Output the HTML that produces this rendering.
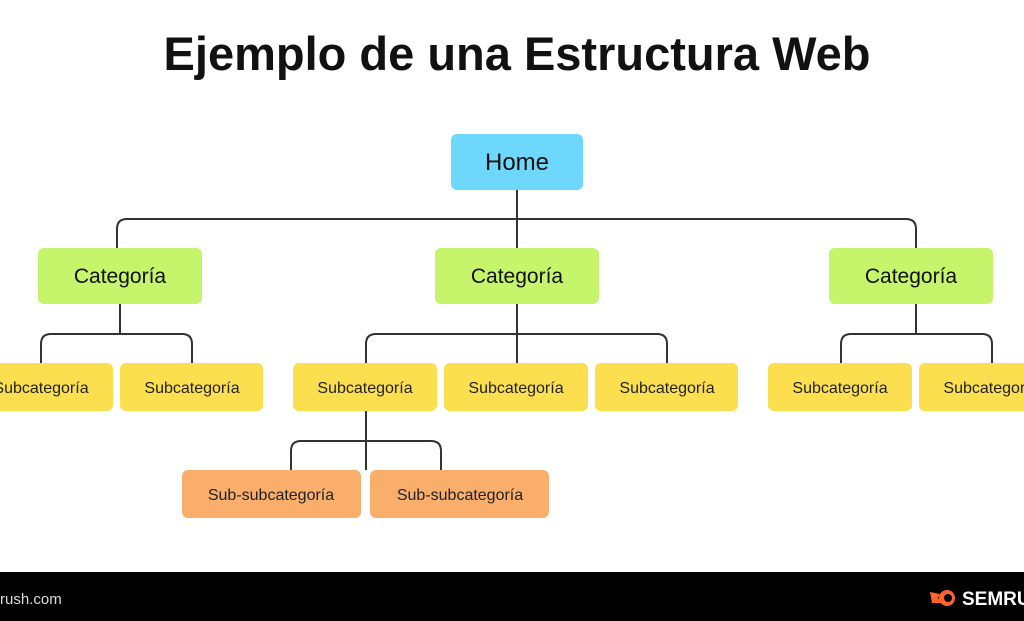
<!DOCTYPE html>
<html><head><meta charset="utf-8"><style>
html,body{margin:0;padding:0;background:#fff;width:1024px;height:621px;overflow:hidden}
svg text{font-family:"Liberation Sans",sans-serif}
</style></head><body>
<svg width="1024" height="621" viewBox="0 0 1024 621" xmlns="http://www.w3.org/2000/svg">
<rect width="1024" height="621" fill="#fff"/>
<text x="517" y="70" text-anchor="middle" font-size="47" font-weight="bold" fill="#111">Ejemplo de una Estructura Web</text>
<g fill="none" stroke="#333" stroke-width="2">
<path d="M517 190 V219"/>
<path d="M117 248 V229 Q117 219 127 219 H906 Q916 219 916 229 V248"/>
<path d="M517 219 V248"/>
<path d="M120 304 V334"/>
<path d="M41 363 V344 Q41 334 51 334 H182 Q192 334 192 344 V363"/>
<path d="M517 304 V363"/>
<path d="M366 363 V344 Q366 334 376 334 H657 Q667 334 667 344 V363"/>
<path d="M916 304 V334"/>
<path d="M841 363 V344 Q841 334 851 334 H982 Q992 334 992 344 V363"/>
<path d="M366 411 V470"/>
<path d="M291 470 V451 Q291 441 301 441 H431 Q441 441 441 451 V470"/>
</g>
<rect x="451" y="134" width="132" height="56" rx="6" fill="#6dd8fb"/>
<text x="517" y="170" text-anchor="middle" font-size="24" fill="#111">Home</text>
<g fill="#c6f46a">
<rect x="38" y="248" width="164" height="56" rx="6"/>
<rect x="435" y="248" width="164" height="56" rx="6"/>
<rect x="829" y="248" width="164" height="56" rx="6"/>
</g>
<g font-size="21" fill="#111" text-anchor="middle">
<text x="120" y="283">Categoría</text>
<text x="517" y="283">Categoría</text>
<text x="911" y="283">Categoría</text>
</g>
<g fill="#fbdf4f">
<rect x="-30" y="363" width="143" height="48" rx="6"/>
<rect x="120" y="363" width="143" height="48" rx="6"/>
<rect x="293" y="363" width="144" height="48" rx="6"/>
<rect x="444" y="363" width="144" height="48" rx="6"/>
<rect x="595" y="363" width="143" height="48" rx="6"/>
<rect x="768" y="363" width="144" height="48" rx="6"/>
<rect x="919" y="363" width="143" height="48" rx="6"/>
</g>
<g font-size="16" fill="#222" text-anchor="middle">
<text x="41" y="393">Subcategoría</text>
<text x="192" y="393">Subcategoría</text>
<text x="365" y="393">Subcategoría</text>
<text x="516" y="393">Subcategoría</text>
<text x="667" y="393">Subcategoría</text>
<text x="840" y="393">Subcategoría</text>
<text x="991" y="393">Subcategoría</text>
</g>
<g fill="#f9ae6c">
<rect x="182" y="470" width="179" height="48" rx="6"/>
<rect x="370" y="470" width="179" height="48" rx="6"/>
</g>
<g font-size="16" fill="#222" text-anchor="middle">
<text x="271" y="500">Sub-subcategoría</text>
<text x="460" y="500">Sub-subcategoría</text>
</g>
<rect x="0" y="572" width="1024" height="49" fill="#000"/>
<text x="0" y="604" font-size="15" fill="#ddd">rush.com</text>
<circle cx="947" cy="598" r="8" fill="#ff642d"/>
<circle cx="948" cy="598" r="4" fill="#000"/>
<path d="M930 592 L940 594 L938 598 L942 603 L932 603 Z" fill="#ff642d"/>
<text x="962" y="605" font-size="19" font-weight="bold" fill="#fff">SEMRUSH</text>
</svg>
</body></html>
